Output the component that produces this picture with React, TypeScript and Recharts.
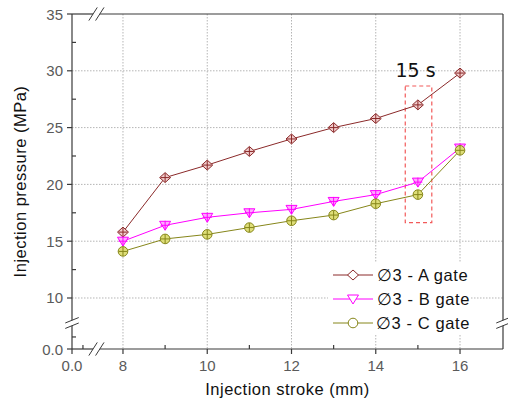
import React from 'react';
import {
  LineChart,
  Line,
  XAxis,
  YAxis,
  CartesianGrid,
  ReferenceArea,
  ReferenceLine,
  Legend,
} from 'recharts';

// Injection stroke (mm) and measured injection pressure (MPa) per gate
const strokes = [8, 9, 10, 11, 12, 13, 14, 15, 16];
const gateA = [15.8, 20.6, 21.7, 22.9, 24.0, 25.0, 25.8, 27.0, 29.8];
const gateB = [15.0, 16.4, 17.1, 17.5, 17.8, 18.5, 19.1, 20.2, 23.2];
const gateC = [14.1, 15.2, 15.6, 16.2, 16.8, 17.3, 18.3, 19.1, 23.0];
const seriesNames = ['\u22053 - A gate', '\u22053 - B gate', '\u22053 - C gate'];

// Axis ticks (the lowest value of each axis sits past a break and reads "0.0")
const xMajorTicks = [8, 10, 12, 14, 16];
const xMinorTicks = [9, 11, 13, 15];
const yMajorTicks = [10, 15, 20, 25, 30, 35];
const yMinorTicks = [12.5, 17.5, 22.5, 27.5, 32.5];
const gridX = [8, 10, 12, 14, 16];
const gridY = [10, 15, 20, 25, 30];

// Highlighted 15 s window
const windowX = [14.7, 15.33];
const windowY = [16.63, 28.66];
const windowLabel = '15 s';

// Broken-axis layout
const X_MIN = 6.79;
const X_MAX = 17.02;
const Y_MIN = 5.51;
const Y_MAX = 35;
const X_BREAK = 7.37;
const Y_BREAK = 7.8;
const X_LOW_MINOR = 7.05;
const Y_LOW_MINOR = 6.57;

const data = strokes.map((x, i) => ({ x, a: gateA[i], b: gateB[i], c: gateC[i] }));

const AXIS = '#3a3a3a';
const TICK_TEXT = '#5a5a5a';
const SANS = '"Liberation Sans", Arial, sans-serif';

const SERIES = [
  { key: 'a', name: seriesNames[0], color: '#8b2a2a', fill: '#f1cccc', shape: 'diamond' },
  { key: 'b', name: seriesNames[1], color: '#ff00ff', fill: '#ffa8ff', shape: 'triangle' },
  { key: 'c', name: seriesNames[2], color: '#86861a', fill: '#dede78', shape: 'circle' },
];

function markerShape(shape: string, cx: number, cy: number, color: string, fill: string, cross: boolean) {
  const crossLines = cross ? (
    <>
      <line x1={cx - 4.5} x2={cx + 4.5} y1={cy} y2={cy} stroke={color} strokeWidth={1} />
      <line x1={cx} x2={cx} y1={cy - 4.5} y2={cy + 4.5} stroke={color} strokeWidth={1} />
    </>
  ) : null;
  if (shape === 'diamond') {
    return (
      <g>
        <polygon
          points={`${cx},${cy - 5} ${cx + 5.5},${cy} ${cx},${cy + 5} ${cx - 5.5},${cy}`}
          fill={fill}
          stroke={color}
          strokeWidth={1}
        />
        {crossLines}
      </g>
    );
  }
  if (shape === 'triangle') {
    return (
      <g>
        <polygon
          points={`${cx - 5.5},${cy - 4} ${cx + 5.5},${cy - 4} ${cx},${cy + 5}`}
          fill={fill}
          stroke={color}
          strokeWidth={1}
        />
        {crossLines}
      </g>
    );
  }
  return (
    <g>
      <circle cx={cx} cy={cy} r={4.8} fill={fill} stroke={color} strokeWidth={1} />
      {crossLines}
    </g>
  );
}

const fmtLow = (v: number) => (v < 8 ? '0.0' : String(v));

const BottomTick = (p: any) => {
  const v = p.payload.value;
  const major = v === X_MIN || xMajorTicks.includes(v);
  return (
    <g>
      {major ? (
        <line x1={p.x} x2={p.x} y1={p.y} y2={p.y + 5} stroke={AXIS} strokeWidth={1.2} />
      ) : (
        <line x1={p.x} x2={p.x} y1={p.y} y2={p.y - 4} stroke={AXIS} strokeWidth={1.2} />
      )}
      {major && (
        <text x={p.x} y={p.y + 22} textAnchor="middle" fill={TICK_TEXT} fontSize={15} fontFamily={SANS}>
          {fmtLow(v)}
        </text>
      )}
    </g>
  );
};

const TopTick = (p: any) => (
  <line x1={p.x} x2={p.x} y1={p.y} y2={p.y + 5} stroke={AXIS} strokeWidth={1.2} />
);

const LeftTick = (p: any) => {
  const v = p.payload.value;
  const major = v === Y_MIN || yMajorTicks.includes(v);
  return (
    <g>
      {major ? (
        <line x1={p.x - 5} x2={p.x} y1={p.y} y2={p.y} stroke={AXIS} strokeWidth={1.2} />
      ) : (
        <line x1={p.x} x2={p.x + 4} y1={p.y} y2={p.y} stroke={AXIS} strokeWidth={1.2} />
      )}
      {major && (
        <text x={p.x - 9} y={p.y + 5.5} textAnchor="end" fill={TICK_TEXT} fontSize={15} fontFamily={SANS}>
          {v < 8 ? '0.0' : String(v)}
        </text>
      )}
    </g>
  );
};

const RightTick = (p: any) => (
  <line x1={p.x - 5} x2={p.x} y1={p.y} y2={p.y} stroke={AXIS} strokeWidth={1.2} />
);

const XTitle = (props: any) => {
  const vb = props.viewBox || {};
  return (
    <text
      x={vb.x + vb.width / 2}
      y={vb.y + 46}
      textAnchor="middle"
      fill="#111"
      fontSize={16.5}
      letterSpacing={0.5}
      fontFamily={SANS}
    >
      Injection stroke (mm)
    </text>
  );
};

const YTitle = (props: any) => {
  const vb = props.viewBox || {};
  const cx = vb.x + 18;
  const cy = vb.y + vb.height / 2;
  return (
    <text
      x={cx}
      y={cy}
      transform={`rotate(-90 ${cx} ${cy})`}
      textAnchor="middle"
      fill="#111"
      fontSize={16.5}
      letterSpacing={0.5}
      fontFamily={SANS}
    >
      Injection pressure (MPa)
    </text>
  );
};

const LegendBox = () => (
  <div style={{ background: '#fff', width: 142, fontFamily: SANS, fontSize: 16.5, color: '#111' }}>
    {SERIES.map((s) => (
      <div key={s.key} style={{ display: 'flex', alignItems: 'center', height: 24 }}>
        <svg width={49} height={24} style={{ display: 'block' }}>
          <line x1={5} x2={45} y1={12} y2={12} stroke={s.color} strokeWidth={1} />
          {markerShape(s.shape, 25, 12, s.color, '#fff', false)}
        </svg>
        <span style={{ letterSpacing: 0.6, whiteSpace: 'nowrap' }}>{s.name}</span>
      </div>
    ))}
  </div>
);

// Small helper for straight decorative strokes expressed in data units
const seg = (key: string, x1: number, y1: number, x2: number, y2: number, w = 1.2) => (
  <ReferenceLine
    key={key}
    segment={[
      { x: x1, y: y1 },
      { x: x2, y: y2 },
    ]}
    stroke={AXIS}
    strokeWidth={w}
    ifOverflow="visible"
  />
);

// Break gap half-widths and slash extents, in data units
const gx = 0.08;
const gy = 0.24;
const slashDx = 0.1;
const slashDy = 0.58;
const sideDx = 0.16;
const sideDy = 0.24;

export default function App() {
  return (
    <div style={{ position: 'absolute', left: 8, top: 0, width: 500, height: 405 }}>
      <LineChart width={500} height={405} data={data} margin={{ top: 14, right: 5, bottom: 0, left: 0 }}>
        <CartesianGrid
          xAxisId={0}
          yAxisId={0}
          verticalValues={gridX}
          horizontalValues={gridY}
          stroke="#b5b5b5"
          strokeDasharray="1.5 1.5"
        />
        <XAxis
          xAxisId={0}
          dataKey="x"
          type="number"
          domain={[X_MIN, X_MAX]}
          allowDataOverflow
          ticks={[X_MIN, X_LOW_MINOR, ...xMajorTicks, ...xMinorTicks].sort((a, b) => a - b)}
          interval={0}
          height={56}
          tickSize={0}
          tickMargin={0}
          axisLine={false}
          tickLine={false}
          tick={(p: any) => <BottomTick {...p} />}
          label={{ content: XTitle }}
        />
        <XAxis
          xAxisId="top"
          orientation="top"
          type="number"
          domain={[X_MIN, X_MAX]}
          allowDataOverflow
          ticks={[...xMajorTicks, ...xMinorTicks].sort((a, b) => a - b)}
          interval={0}
          height={0}
          tickSize={0}
          tickMargin={0}
          axisLine={false}
          tickLine={false}
          tick={(p: any) => <TopTick {...p} />}
        />
        <YAxis
          yAxisId={0}
          type="number"
          domain={[Y_MIN, Y_MAX]}
          allowDataOverflow
          ticks={[Y_MIN, Y_LOW_MINOR, ...yMajorTicks, ...yMinorTicks].sort((a, b) => a - b)}
          interval={0}
          width={64}
          tickSize={0}
          tickMargin={0}
          axisLine={false}
          tickLine={false}
          tick={(p: any) => <LeftTick {...p} />}
          label={{ content: YTitle }}
        />
        <YAxis
          yAxisId="right"
          orientation="right"
          type="number"
          domain={[Y_MIN, Y_MAX]}
          allowDataOverflow
          ticks={[Y_LOW_MINOR, ...yMajorTicks, ...yMinorTicks].filter((v) => v < Y_MAX).sort((a, b) => a - b)}
          interval={0}
          width={0}
          tickSize={0}
          tickMargin={0}
          axisLine={false}
          tickLine={false}
          tick={(p: any) => <RightTick {...p} />}
        />

        {/* frame with broken segments */}
        {seg('b1', X_MIN, Y_MIN, X_BREAK - gx, Y_MIN)}
        {seg('b2', X_BREAK + gx, Y_MIN, X_MAX, Y_MIN)}
        {seg('t1', X_MIN, Y_MAX, X_BREAK - gx, Y_MAX)}
        {seg('t2', X_BREAK + gx, Y_MAX, X_MAX, Y_MAX)}
        {seg('l1', X_MIN, Y_MIN, X_MIN, Y_BREAK - gy)}
        {seg('l2', X_MIN, Y_BREAK + gy, X_MIN, Y_MAX)}
        {seg('r1', X_MAX, Y_MIN, X_MAX, Y_BREAK - gy)}
        {seg('r2', X_MAX, Y_BREAK + gy, X_MAX, Y_MAX)}

        {/* break slashes */}
        {[-1, 1].map((s) => seg(`bs${s}`, X_BREAK + s * gx - slashDx, Y_MIN - slashDy, X_BREAK + s * gx + slashDx, Y_MIN + slashDy, 1))}
        {[-1, 1].map((s) => seg(`ts${s}`, X_BREAK + s * gx - slashDx, Y_MAX - slashDy, X_BREAK + s * gx + slashDx, Y_MAX + slashDy, 1))}
        {[-1, 1].map((s) => seg(`ls${s}`, X_MIN - sideDx, Y_BREAK + s * gy - sideDy, X_MIN + sideDx, Y_BREAK + s * gy + sideDy, 1))}
        {[-1, 1].map((s) => seg(`rs${s}`, X_MAX - sideDx, Y_BREAK + s * gy - sideDy, X_MAX + sideDx, Y_BREAK + s * gy + sideDy, 1))}

        <ReferenceArea
          x1={windowX[0]}
          x2={windowX[1]}
          y1={windowY[0]}
          y2={windowY[1]}
          fill="none"
          fillOpacity={0}
          stroke="#f25a5a"
          strokeWidth={1.2}
          strokeDasharray="4 3"
          label={{
            value: windowLabel,
            position: 'top',
            offset: 9,
            dx: -3,
            fill: '#111',
            fontSize: 19,
            fontFamily: '"DejaVu Sans", sans-serif',
          }}
        />

        {SERIES.map((s) => (
          <Line
            key={s.key}
            dataKey={s.key}
            name={s.name}
            type="linear"
            stroke={s.color}
            strokeWidth={1}
            isAnimationActive={false}
            dot={(p: any) => (
              <g key={`${s.key}-${p.index}`}>{markerShape(s.shape, p.cx, p.cy, s.color, s.fill, true)}</g>
            )}
            activeDot={false}
          />
        ))}

        <Legend
          layout="vertical"
          align="center"
          verticalAlign="middle"
          content={() => <LegendBox />}
          wrapperStyle={{ left: 320, top: 263, width: 142, height: 72 }}
        />
      </LineChart>
    </div>
  );
}
